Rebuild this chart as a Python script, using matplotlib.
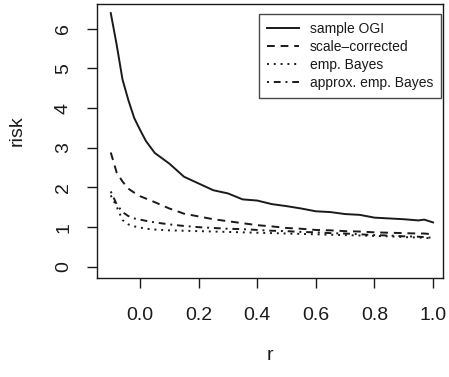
import numpy as np
import matplotlib
matplotlib.use("Agg")
import matplotlib.pyplot as plt

plt.rcParams['font.family'] = ['Liberation Sans', 'DejaVu Sans']

# r-Werte und Risikokurven
r = [-0.1, -0.08, -0.06, -0.04, -0.02, 0.0, 0.02, 0.05, 0.1, 0.15, 0.2, 0.25,
     0.3, 0.35, 0.4, 0.45, 0.5, 0.55, 0.6, 0.65, 0.7, 0.75, 0.8, 0.85, 0.9,
     0.95, 0.97, 1.0]

risk_ogi = [6.39, 5.6, 4.72, 4.2, 3.75, 3.45, 3.17, 2.87, 2.60, 2.27, 2.10, 1.93,
            1.85, 1.70, 1.67, 1.58, 1.53, 1.47, 1.40, 1.38, 1.33, 1.31, 1.24, 1.22,
            1.20, 1.17, 1.19, 1.12]
risk_scale = [2.88, 2.38, 2.15, 1.97, 1.87, 1.78, 1.72, 1.63, 1.47, 1.34, 1.27, 1.20,
              1.15, 1.10, 1.05, 1.02, 0.98, 0.96, 0.93, 0.92, 0.90, 0.89, 0.87, 0.86,
              0.85, 0.84, 0.84, 0.82]
risk_eb = [1.80, 1.52, 1.18, 1.07, 1.02, 0.99, 0.96, 0.94, 0.92, 0.91, 0.90, 0.89,
           0.88, 0.87, 0.86, 0.85, 0.84, 0.83, 0.82, 0.81, 0.80, 0.79, 0.78, 0.77,
           0.75, 0.74, 0.73, 0.72]
risk_approx = [1.90, 1.58, 1.38, 1.28, 1.22, 1.19, 1.16, 1.12, 1.07, 1.03, 1.00, 0.98,
               0.96, 0.95, 0.93, 0.91, 0.90, 0.88, 0.87, 0.85, 0.84, 0.82, 0.80, 0.79,
               0.77, 0.76, 0.75, 0.73]

labels = ["sample OGI", "scale\u2013corrected", "emp. Bayes", "approx. emp. Bayes"]
xticks = [0.0, 0.2, 0.4, 0.6, 0.8, 1.0]
yticks = [0, 1, 2, 3, 4, 5, 6]

ink = '#1a1a1a'

fig = plt.figure(figsize=(4.49, 3.77), dpi=100)
ax = fig.add_axes([97/449, 1 - 278/377, 346/449, 274/377])

ax.plot(r, risk_ogi, color=ink, lw=1.4, ls='-', label=labels[0])
ax.plot(r, risk_scale, color=ink, lw=1.4, ls=(0, (4, 3)), label=labels[1])
ax.plot(r, risk_eb, color=ink, lw=1.4, ls=(0, (1, 2.5)), label=labels[2])
ax.plot(r, risk_approx, color=ink, lw=1.4, ls=(0, (1, 2.5, 3.5, 2.5)), label=labels[3])

ax.set_xlim(-0.147, 1.034)
ax.set_ylim(-0.28, 6.62)
ax.set_xticks(xticks)
ax.set_xticklabels([f"{t:.1f}" for t in xticks])
ax.set_yticks(yticks)
ax.set_yticklabels([str(t) for t in yticks], rotation=90, va='center')
ax.tick_params(axis='both', direction='out', length=7, width=1, colors=ink,
               labelsize=14)
ax.tick_params(axis='x', pad=14)
ax.tick_params(axis='y', pad=11)
for s in ax.spines.values():
    s.set_color(ink)
    s.set_linewidth(1)

leg = ax.legend(loc='upper right', bbox_to_anchor=(344/346, 1 - 10/274),
                fontsize=10, frameon=True, fancybox=False, handlelength=2.3,
                handletextpad=0.8, borderpad=0.55, labelspacing=0.3,
                borderaxespad=0)
leg.get_frame().set_edgecolor(ink)
leg.get_frame().set_linewidth(1)
for t in leg.get_texts():
    t.set_color(ink)

fig.text(270/449, 1 - 355/377, "r", ha='center', va='center', fontsize=14, color=ink)
fig.text(17/449, 1 - 131/377, "risk", ha='center', va='center', rotation=90,
         fontsize=14, color=ink)

fig.savefig("out.png", dpi=100)
